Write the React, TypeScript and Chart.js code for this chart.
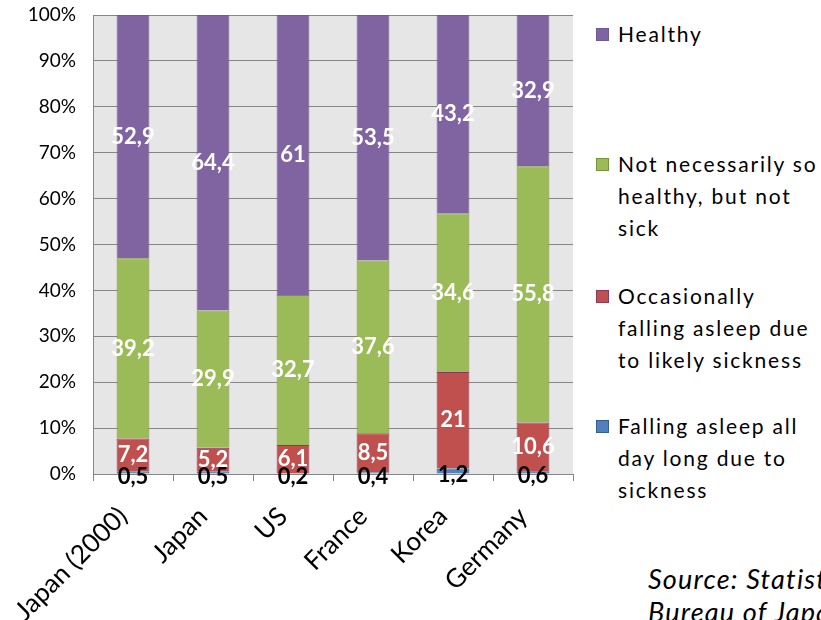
import React, { useEffect, useRef } from "react";
import { Chart, registerables } from "chart.js";

Chart.register(...registerables);

const categories = ["Japan (2000)", "Japan", "US", "France", "Korea", "Germany"];
const fallingAllDay = [0.5, 0.5, 0.2, 0.4, 1.2, 0.6];
const occasionally = [7.2, 5.2, 6.1, 8.5, 21, 10.6];
const notSoHealthy = [39.2, 29.9, 32.7, 37.6, 34.6, 55.8];
const healthy = [52.9, 64.4, 61, 53.5, 43.2, 32.9];

const seriesNames = [
  "Falling asleep all day long due to sickness",
  "Occasionally falling asleep due to likely sickness",
  "Not necessarily so healthy, but not sick",
  "Healthy",
];

const legendLines = [
  ["Healthy"],
  ["Not necessarily so", "healthy, but not", "sick"],
  ["Occasionally", "falling asleep due", "to likely sickness"],
  ["Falling asleep all", "day long due to", "sickness"],
];

const FONT = "Lato, 'Liberation Sans', sans-serif";

const fills = ["#4F81BD", "#C0504D", "#9BBB59", "#8064A2"];
const borders = ["#385D8A", "#8C3A5E", "#77933C", "#6E5A96"];

const rawSeries = [fallingAllDay, occasionally, notSoHealthy, healthy];

function fmt(v: number) {
  return String(v).replace(".", ",");
}

const labelPlugin = {
  id: "segLabels",
  beforeDraw(chart: any) {
    const { ctx, chartArea } = chart;
    ctx.save();
    ctx.fillStyle = "#E6E6E6";
    ctx.fillRect(chartArea.left, chartArea.top, chartArea.right - chartArea.left, chartArea.bottom - chartArea.top);
    ctx.restore();
  },
  afterDatasetsDraw(chart: any) {
    const { ctx } = chart;
    ctx.save();
    ctx.font = `bold 22px ${FONT}`;
    ctx.textAlign = "center";
    ctx.textBaseline = "middle";
    chart.data.datasets.forEach((ds: any, i: number) => {
      const meta = chart.getDatasetMeta(i);
      meta.data.forEach((bar: any, j: number) => {
        const p = bar.getProps(["x", "y", "base"], true);
        let cy = (p.y + p.base) / 2;
        if (i === 0) cy += 4;
        ctx.fillStyle = i === 0 ? "#000000" : "#FFFFFF";
        ctx.fillText(fmt(rawSeries[i][j]), p.x, cy);
      });
    });
    ctx.restore();
  },
};

export default function App() {
  const ref = useRef<HTMLCanvasElement>(null);
  useEffect(() => {
    document.body.style.margin = "0";
    const totals = categories.map((_, j) => rawSeries.reduce((s, arr) => s + arr[j], 0));
    const chart = new Chart(ref.current!, {
      type: "bar",
      data: {
        labels: categories,
        datasets: rawSeries.map((arr, i) => ({
          label: seriesNames[i],
          data: arr.map((v, j) => (v / totals[j]) * 100),
          backgroundColor: fills[i],
          borderColor: borders[i],
          borderWidth: 1,
          barPercentage: 0.41,
          categoryPercentage: 1,
        })),
      },
      options: {
        animation: false,
        responsive: true,
        maintainAspectRatio: false,
        layout: { padding: { top: 15, right: 1, left: 0, bottom: 0 } },
        plugins: { legend: { display: false }, tooltip: { enabled: false } },
        scales: {
          x: {
            stacked: true,
            afterFit: (s: any) => {
              s.height = 146;
              s.paddingLeft = 0;
              s.paddingRight = 0;
              s.paddingTop = 0;
              s.paddingBottom = 0;
            },
            grid: {
              display: true,
              drawOnChartArea: false,
              drawTicks: true,
              tickLength: 7,
              color: "#868686",
              offset: true,
            },
            border: { display: true, color: "#868686" },
            ticks: {
              color: "#000",
              font: { family: FONT, size: 26 },
              minRotation: 45,
              maxRotation: 45,
              padding: 20,
              labelOffset: -10,
            },
          },
          y: {
            stacked: true,
            min: 0,
            max: 100,
            afterFit: (s: any) => {
              s.width = 93;
              s.paddingTop = 0;
              s.paddingBottom = 0;
            },
            grid: { color: "#868686", drawTicks: false },
            border: { display: true, color: "#868686" },
            ticks: {
              stepSize: 10,
              color: "#000",
              font: { family: FONT, size: 19 },
              padding: 17,
              callback: (v: any) => `${v}%`,
            },
          },
        },
      },
      plugins: [labelPlugin],
    });
    return () => chart.destroy();
  }, []);

  const legendTops = [22, 152, 284, 414];

  return (
    <div style={{ position: "fixed", left: 0, top: 0, width: 821, height: 620, background: "#fff", overflow: "hidden" }}>
      <div style={{ position: "absolute", left: 0, top: 0, width: 574, height: 620 }}>
        <canvas ref={ref} />
      </div>
      {legendLines.map((lines, k) => {
        const idx = 3 - k;
        return (
          <div key={k} style={{ position: "absolute", left: 596, top: legendTops[k] }}>
            <div
              style={{
                position: "absolute",
                left: 0,
                top: 6,
                width: 11,
                height: 11,
                background: fills[idx],
                border: `1px solid ${borders[idx]}`,
              }}
            />
            <div
              style={{
                position: "absolute",
                left: 22,
                top: 0,
                font: `21px ${FONT}`,
                lineHeight: "32px",
                letterSpacing: "1.8px",
                whiteSpace: "nowrap",
                color: "#000",
                marginTop: -4,
              }}
            >
              {lines.map((l, m) => (
                <div key={m}>{l}</div>
              ))}
            </div>
          </div>
        );
      })}
      <div
        style={{
          position: "absolute",
          left: 648,
          top: 562,
          font: `italic 27px ${FONT}`,
          lineHeight: "33px",
          letterSpacing: "1.2px",
          whiteSpace: "nowrap",
          color: "#000",
        }}
      >
        <div>Source: Statistics</div>
        <div>Bureau of Japan</div>
      </div>
    </div>
  );
}
